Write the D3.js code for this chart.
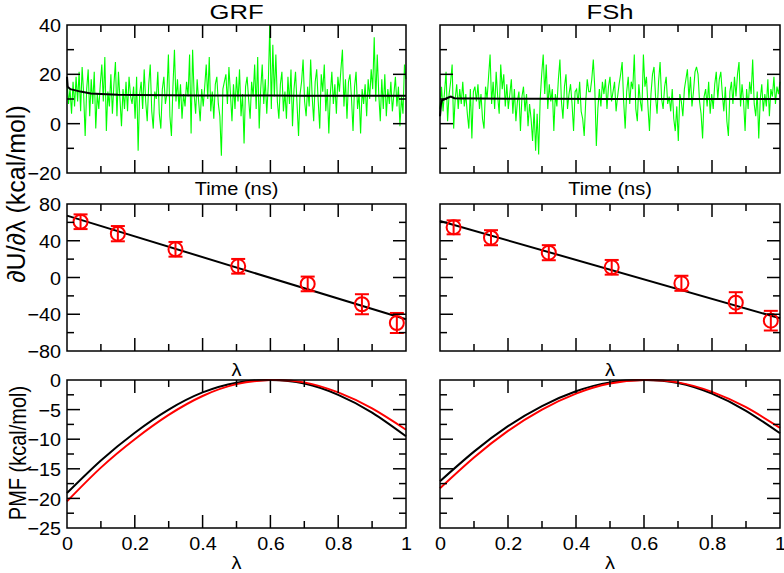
<!DOCTYPE html>
<html>
<head>
<meta charset="utf-8">
<script src="https://cdn.jsdelivr.net/npm/d3@7"></script>
<style>
  html, body { margin: 0; padding: 0; background: #fff; }
  svg { display: block; }
  text { font-family: "Liberation Sans", Arial, Helvetica, sans-serif; fill: #000; }
</style>
</head>
<body>
<svg id="chart" width="784" height="573"></svg>
<script>
// ---------------- DATA ----------------
const panelTitles = ["GRF", "FSh"];

// Top row: instantaneous dU/dλ (green) vs time (0-10, arbitrary ns units)
const grfTrace = [
  18, 8, 14, 4, 17, 7, 19, 9, 21, 5, 23, 12, -5, 14, 22,
  3, 18, 8, 21, -2, 12, 6, 16, 24, 9, 27, -3, 13, 7, 20,
  4, 16, 25, 3, 21, 10, -1, 14, 6, 17, 5, 19, 11, 8, 15,
  2, 19, -11, 12, 17, 6, 22, 9, 1, 16, 24, 5, -2, 13, 10,
  21, 4, -2, 14, 19, 8, 12, 28, 3, -5, 15, 30, 9, 18, 6,
  16, 2, 12, 7, 17, 11, 28, -4, 30, 12, 4, 18, 9, 1, 14,
  7, 15, 24, 10, 27, 5, 13, 2, 16, 19, 8, 3, -13, 14, 17,
  20, 8, 23, 12, 1, 16, 6, 19, 9, 22, 3, 12, -8, 15, 19,
  10, 2, 17, 11, 24, 6, 27, -2, 14, 24, 8, 18, 4, 16, 40,
  6, 32, 11, 28, 9, 2, 16, 21, 5, 13, 2, 19, 8, 22, -1,
  14, 21, 8, -5, 12, 17, 26, 9, 3, 15, 7, 26, 11, 1, 17,
  22, 9, -2, 20, 13, 24, 5, 14, -4, 12, 21, 8, 16, 4, 19,
  13, 22, 30, 7, 18, 2, 17, 20, 10, -3, 15, 21, 6, 12, -4,
  14, 8, 16, 3, 18, 10, 22, 14, 35, 9, 28, 12, 1, 18, 6,
  20, 3, 14, 8, 17, 5, 12, 19, 7, 15, -1, 11, 4, 24, 18
];
const fshTrace = [
  6, 15, 5, 13, 21, 1, 12, 17, 24, -2, 10, 16, 6, 14, 8,
  17, 7, 12, 4, -2, 14, -6, 13, 15, 9, 16, 6, 12, 2, -2,
  15, 10, 19, 28, 8, 17, 6, 21, 11, 4, 24, 14, 20, 7, 16,
  6, 12, 18, 4, 14, 1, 9, 13, -3, 11, 15, 5, 12, -1, 8,
  2, -7, 6, -11, 4, -12.5, 10, 20, 28, 12, 24, 6, 16, 9, 14,
  -3, 12, 7, 18, 26, 9, 2, 15, 20, 6, 12, 16, 8, -3, 13,
  14, 8, 17, 5, 2, -5, 9, 18, 13, 13, 18, 26, 14, -9, 6,
  14, 7, 17, 12, 18, 6, 15, 19, 9, 13, 17, 5, 11, 16, 20,
  25, 9, -2, 13, 19, 8, 17, 14, 28, 6, 1, 16, 9, 5, 28,
  15, 19, 7, -3, 12, 20, 23, 11, 4, 17, 25, 10, 6, 15, 19,
  8, 11, 5, 14, 2, -3, 7, -7, 12, 9, 3, 14, 18, 22, 10,
  19, 7, 13, 21, 23, 20, 9, 4, -6, 11, 14, 7, 17, 4, 12,
  6, 16, 21, 10, 18, 21, 12, 5, 15, 1, -5, 13, 17, 8, 19,
  11, 20, 25, 7, 16, 9, -3, 14, 6, 17, 12, 26, 8, 3, 13,
  -6, 10, 16, 5, 12, 7, 18, 3, 14, 11, 19, 8, 15, 12, 17
];
// Running averages (black) : [time, value]
const grfAvgT = [0, 0.02, 0.1, 0.25, 0.4, 0.7, 1.0, 1.5, 2, 3, 4, 5, 6, 7, 8, 9, 10];
const grfAvgV = [19, 15, 14, 13.5, 13, 12.2, 12, 11.7, 11.6, 11.5, 11.4, 11.4, 11.4, 11.3, 11.3, 11.3, 11.3];
const fshAvgT = [0, 0.03, 0.06, 0.15, 0.25, 0.32, 0.42, 0.6, 1, 2, 3, 5, 7, 10];
const fshAvgV = [3, 8, 9.5, 10, 10.6, 11, 10.3, 10.2, 10.2, 10.1, 10.1, 10.0, 10.0, 10.0];

// Middle row: dU/dλ at the quadrature points, with error bars and linear fit
const lambdaPts = [0.04, 0.15, 0.32, 0.505, 0.71, 0.87, 0.973];
const grfDudl = [60.7, 47.7, 30.7, 12.2, -7.0, -29.1, -49.5];
const grfErr = [8, 8.3, 8, 8, 8, 10.9, 10.9];
const fshDudl = [54.6, 43.3, 27.0, 11.1, -6.3, -27.4, -47.0];
const fshErr = [7.6, 8.2, 8.2, 8, 8.2, 11.4, 10.7];
const fitLambda = [0, 1];
const grfFit = [67.3, -45.5];
const fshFit = [61.5, -44.4];

// Bottom row: PMF curves
const pmfLambda = [0, 0.1, 0.2, 0.3, 0.4, 0.5, 0.6, 0.7, 0.8, 0.9, 1.0];
const grfPmfBlack = [-19.1, -13.6, -8.9, -5.0, -2.1, -0.45, 0, -0.6, -2.5, -5.5, -9.5];
const grfPmfRed   = [-20.5, -14.8, -10.0, -5.9, -2.7, -0.7, 0, -0.4, -2.1, -4.8, -8.4];
const fshPmfBlack = [-17.1, -12.1, -7.8, -4.4, -1.9, -0.4, 0, -0.5, -2.3, -5.2, -9.0];
const fshPmfRed   = [-18.3, -13.1, -8.6, -5.0, -2.3, -0.6, 0, -0.4, -2.0, -4.6, -8.1];

// Tick labels
const topYTicks = [40, 20, 0, -20];
const midYTicks = [80, 40, 0, -40, -80];
const botYTicks = [0, -5, -10, -15, -20, -25];
const lambdaTickLabels = ["0", "0.2", "0.4", "0.6", "0.8", "1"];

// ---------------- LAYOUT ----------------
const svg = d3.select("#chart");
const cols = [{x0: 67, x1: 406}, {x0: 440, x1: 780}];
const rows = [{y0: 25, y1: 173}, {y0: 204, y1: 351}, {y0: 380, y1: 528}];
const MAJ = 13, MIN = 7;
const FS_TICK = 18.5, SX_TICK = 1.07;
const FS_LABEL = 18.5, SX_LABEL = 1.08;
const FS_TITLE = 21, SX_TITLE = 1.22;

// horizontally stretched text (the reference is slightly widened)
function stext(parent, x, y, str, fs, sx, anchor) {
  return parent.append("text")
    .attr("transform", `translate(${x},${y}) scale(${sx},1)`)
    .attr("text-anchor", anchor || "middle")
    .attr("font-size", fs).text(str);
}

function frameAndTicks(g, x, y, xMaj, xMin, yMaj, yMin) {
  const [xa, xb] = x.range(), [ya, yb] = y.range();
  const tk = g.append("g").attr("stroke", "#000").attr("stroke-width", 1.5);
  const xt = (v, len) => {
    tk.append("line").attr("x1", x(v)).attr("x2", x(v)).attr("y1", ya).attr("y2", ya - len);
    tk.append("line").attr("x1", x(v)).attr("x2", x(v)).attr("y1", yb).attr("y2", yb + len);
  };
  const yt = (v, len) => {
    tk.append("line").attr("y1", y(v)).attr("y2", y(v)).attr("x1", xa).attr("x2", xa + len);
    tk.append("line").attr("y1", y(v)).attr("y2", y(v)).attr("x1", xb).attr("x2", xb - len);
  };
  xMaj.forEach(v => xt(v, MAJ)); xMin.forEach(v => xt(v, MIN));
  yMaj.forEach(v => yt(v, MAJ)); yMin.forEach(v => yt(v, MIN));
  g.append("rect").attr("x", xa).attr("y", yb).attr("width", xb - xa).attr("height", ya - yb)
    .attr("fill", "none").attr("stroke", "#000").attr("stroke-width", 1.5);
}

function yTickLabels(g, x, y, vals) {
  const ax = d3.axisLeft(y).tickValues(vals).tickSize(0).tickPadding(0).tickFormat(d3.format("d"));
  const a = g.append("g").attr("transform", `translate(${x.range()[0] - 6},0)`).call(ax);
  a.select(".domain").remove();
  a.selectAll(".tick text").remove();
  a.selectAll(".tick").each(function(d) {
    stext(d3.select(this), 0, FS_TICK * 0.36, d3.format("d")(d), FS_TICK, SX_TICK, "end");
  });
}

function xTickLabels(g, x, y, vals, labels) {
  const ax = d3.axisBottom(x).tickValues(vals).tickSize(0).tickPadding(0).tickFormat((d, i) => labels[i]);
  const a = g.append("g").attr("transform", `translate(0,${y.range()[0] + 22})`).call(ax);
  a.select(".domain").remove();
  a.selectAll(".tick text").remove();
  a.selectAll(".tick").each(function(d, i) {
    stext(d3.select(this), 0, 0, labels[i], FS_TICK, SX_TICK, "middle");
  });
}

const tMaj = [2, 4, 6, 8], tMin = [1, 3, 5, 7, 9];
const lMaj = [0.2, 0.4, 0.6, 0.8], lMin = [0.1, 0.3, 0.5, 0.7, 0.9];

const traces = [grfTrace, fshTrace];
const avgs = [[grfAvgT, grfAvgV], [fshAvgT, fshAvgV]];
const dudl = [[grfDudl, grfErr, grfFit], [fshDudl, fshErr, fshFit]];
const pmfs = [[grfPmfBlack, grfPmfRed], [fshPmfBlack, fshPmfRed]];

cols.forEach((c, ci) => {
  const cx = (c.x0 + c.x1) / 2;
  // title
  stext(svg, cx, 19, panelTitles[ci], FS_TITLE, SX_TITLE, "middle");

  // ---- Top: time series
  {
    const g = svg.append("g");
    const x = d3.scaleLinear().domain([0, 10]).range([c.x0, c.x1]);
    const y = d3.scaleLinear().domain([-20, 40]).range([rows[0].y1, rows[0].y0]);
    const tr = traces[ci];
    const tt = tr.map((_, i) => 10 * i / (tr.length - 1));
    g.append("path").datum(tr)
      .attr("d", d3.line().x((d, i) => x(tt[i])).y(d => y(d)))
      .attr("fill", "none").attr("stroke", "#00ff00").attr("stroke-width", 1.1);
    const [at, av] = avgs[ci];
    g.append("path").datum(av)
      .attr("d", d3.line().x((d, i) => x(at[i])).y(d => y(d)))
      .attr("fill", "none").attr("stroke", "#000").attr("stroke-width", 2);
    frameAndTicks(g, x, y, tMaj, tMin, [0, 20], [-10, 10, 30]);
    if (ci === 0) yTickLabels(g, x, y, topYTicks);
    stext(g, cx, 195, "Time (ns)", FS_LABEL, SX_LABEL, "middle");
  }

  // ---- Middle: dU/dλ
  {
    const g = svg.append("g");
    const x = d3.scaleLinear().domain([0, 1]).range([c.x0, c.x1]);
    const y = d3.scaleLinear().domain([-80, 80]).range([rows[1].y1, rows[1].y0]);
    const [vals, errs, fit] = dudl[ci];
    g.append("path").datum(fit)
      .attr("d", d3.line().x((d, i) => x(fitLambda[i])).y(d => y(d)))
      .attr("fill", "none").attr("stroke", "#000").attr("stroke-width", 2);
    const eg = g.append("g").attr("stroke", "#ff0000").attr("stroke-width", 2).attr("fill", "none");
    vals.forEach((v, i) => {
      const px = x(lambdaPts[i]);
      const hi = y(v + errs[i]), lo = y(v - errs[i]);
      eg.append("line").attr("x1", px).attr("x2", px).attr("y1", hi).attr("y2", lo);
      eg.append("line").attr("x1", px - 7).attr("x2", px + 7).attr("y1", hi).attr("y2", hi);
      eg.append("line").attr("x1", px - 7).attr("x2", px + 7).attr("y1", lo).attr("y2", lo);
      eg.append("circle").attr("cx", px).attr("cy", y(v)).attr("r", 7);
    });
    frameAndTicks(g, x, y, lMaj, lMin, [-40, 0, 40], [-60, -20, 20, 60]);
    if (ci === 0) yTickLabels(g, x, y, midYTicks);
    stext(g, cx, 376, "λ", FS_LABEL, SX_LABEL, "middle");
  }

  // ---- Bottom: PMF
  {
    const g = svg.append("g");
    const x = d3.scaleLinear().domain([0, 1]).range([c.x0, c.x1]);
    const y = d3.scaleLinear().domain([-25, 0]).range([rows[2].y1, rows[2].y0]);
    const [pb, pr] = pmfs[ci];
    const ln = d3.line().curve(d3.curveNatural).x((d, i) => x(pmfLambda[i])).y(d => y(d));
    g.append("path").datum(pb).attr("d", ln).attr("fill", "none").attr("stroke", "#000").attr("stroke-width", 2);
    g.append("path").datum(pr).attr("d", ln).attr("fill", "none").attr("stroke", "#ff0000").attr("stroke-width", 2);
    frameAndTicks(g, x, y, lMaj, lMin, [-20, -15, -10, -5], [-22.5, -17.5, -12.5, -7.5, -2.5]);
    if (ci === 0) yTickLabels(g, x, y, botYTicks);
    xTickLabels(g, x, y, [0, 0.2, 0.4, 0.6, 0.8, 1], lambdaTickLabels);
    stext(g, cx, 569, "λ", FS_LABEL, SX_LABEL, "middle");
  }
});

// Y axis titles (rotated)
svg.append("text").attr("transform", "translate(25,194) rotate(-90)").attr("text-anchor", "middle")
  .attr("font-size", 25).text("∂U/∂λ (kcal/mol)");
svg.append("text").attr("transform", "translate(26,453) scale(1.2,1) rotate(-90)").attr("text-anchor", "middle")
  .attr("font-size", 20).text("PMF (kcal/mol)");
</script>
</body>
</html>
